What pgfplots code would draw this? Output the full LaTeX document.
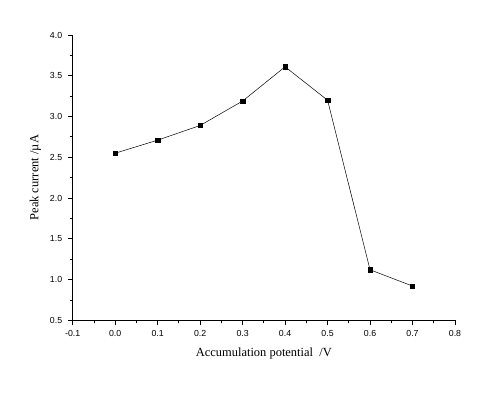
\documentclass[border=0pt]{standalone}
\usepackage{fontspec}
\setmainfont{Liberation Serif}
\newfontfamily\tickfont{Liberation Sans}
\usepackage{pgfplots}
\pgfplotsset{compat=1.18}
\begin{document}
\begin{tikzpicture}
\useasboundingbox (0,0) rectangle (494bp,393bp);
\begin{axis}[
  at={(72.7bp,72.7bp)}, anchor=south west,
  scale only axis, width=382.3bp, height=285.3bp,
  xmin=-0.1, xmax=0.8, ymin=0.5, ymax=4.0,
  axis x line*=bottom, axis y line*=left,
  axis line style={line width=0.8pt, -},
  xtick={-0.1,0,...,0.8}, ytick={0.5,1.0,...,4.0},
  minor x tick num=1, minor y tick num=1,
  tick align=outside,
  major tick length=5bp, minor tick length=3bp,
  tick style={black, line width=0.8pt},
  /pgf/number format/assume math mode=true,
  /pgf/number format/fixed, /pgf/number format/fixed zerofill,
  /pgf/number format/precision=1,
  ticklabel style={font=\tickfont\fontsize{8.8}{10}\selectfont},
  xticklabel style={yshift=-2bp},
  yticklabel style={xshift=-2bp},
  xlabel={Accumulation potential \ /V},
  ylabel={Peak current /\textmu A},
  label style={font=\fontsize{12.5}{14}\selectfont},
  xlabel style={yshift=-4bp},
  ylabel style={yshift=2bp},
]
\addplot[black, line width=0.5pt, mark=square*, mark size=2.2bp] coordinates {
(0.0,2.55) (0.1,2.71) (0.2,2.89) (0.3,3.19) (0.4,3.61) (0.5,3.20) (0.6,1.12) (0.7,0.92)
};
\end{axis}
\end{tikzpicture}
\end{document}
